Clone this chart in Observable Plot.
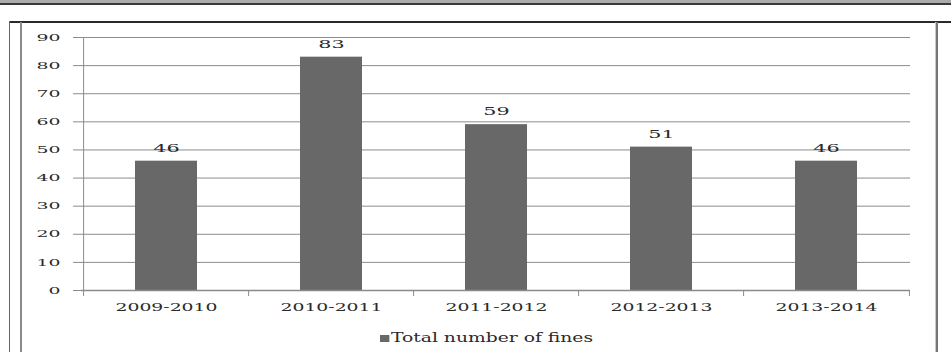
<!DOCTYPE html>
<html>
<head>
<meta charset="utf-8">
<script src="https://cdn.jsdelivr.net/npm/d3@7"></script>
<script src="https://cdn.jsdelivr.net/npm/@observablehq/plot@0.6"></script>
<style>
  html, body { margin: 0; padding: 0; background: #fff; }
  #wrap { position: relative; width: 951px; height: 352px; overflow: hidden; background: #fff; }
  .deco { position: absolute; }
  #legend { position: absolute; left: 380px; top: 330px; height: 16px; line-height: 16px; font-family: 'DejaVu Serif', serif; font-size: 12px; color: #2a2a2a; white-space: nowrap; transform-origin: 0 50%; }
  #legend .sw { display: inline-block; width: 6px; height: 7px; background: #686868; margin-right: 1px; vertical-align: 0px; }
  #chart text { font-family: 'DejaVu Serif', serif; }
</style>
</head>
<body>
<div id="wrap">
  <div class="deco" style="left:0;top:0;width:951px;height:3px;background:#ababab"></div>
  <div class="deco" style="left:0;top:3px;width:951px;height:2px;background:#3a3a3a"></div>
  <div class="deco" style="left:9px;top:21px;width:942px;height:2px;background:#2a2a2a"></div>
  <div class="deco" style="left:9px;top:21px;width:1px;height:331px;background:#666"></div>
  <div class="deco" style="left:20px;top:22px;width:2px;height:330px;background:#8a8a8a"></div>
  <div class="deco" style="left:935px;top:22px;width:1px;height:330px;background:#c8c8c8"></div>
  <div class="deco" style="left:936px;top:22px;width:2px;height:330px;background:#777"></div>
  <div id="chart" style="position:absolute;left:0;top:0"></div>
  <div id="legend"><span class="sw"></span>Total number of fines</div>
</div>
<script>
const categories = ["2009-2010", "2010-2011", "2011-2012", "2012-2013", "2013-2014"];
const fines = [46, 83, 59, 51, 46];
const yTicks = [0, 10, 20, 30, 40, 50, 60, 70, 80, 90];
const gridTicks = [10, 20, 30, 40, 50, 60, 70, 80, 90];

const data = categories.map((c, i) => ({period: c, value: fines[i]}));

const W = 951, H = 322;
const mL = 81, mR = 41, mT = 37, mB = 32;
const step = (W - mL - mR) / categories.length;
const serif = "'DejaVu Serif', serif";

const chart = Plot.plot({
  width: W,
  height: H,
  marginLeft: mL,
  marginRight: mR,
  marginTop: mT,
  marginBottom: mB,
  style: {fontFamily: serif, background: "transparent", color: "#222"},
  x: {domain: categories, paddingInner: 0.625, paddingOuter: 0.3125, axis: null},
  y: {domain: [0, 90], axis: null},
  marks: [
    Plot.ruleY(gridTicks, {stroke: "#8c8c8c", strokeWidth: 1}),
    Plot.axisY(yTicks, {label: null, tickSize: 8, tickPadding: 13, stroke: "#8c8c8c", fill: "#2a2a2a", fontSize: 10}),
    Plot.ruleX([categories[0]], {dx: -step / 2, y1: 0, y2: 90, stroke: "#8c8c8c"}),
    Plot.barY(data, {x: "period", y: "value", fill: "#686868"}),
    Plot.ruleY([0], {stroke: "#8a8a8a", strokeWidth: 1.5}),
    Plot.axisX(categories, {label: null, tickSize: 6, text: null, dx: -step / 2, stroke: "#8a8a8a"}),
    Plot.axisX([categories[categories.length - 1]], {label: null, tickSize: 6, text: null, dx: step / 2, stroke: "#8a8a8a"}),
    Plot.axisX(categories, {label: null, tickSize: 0, tickPadding: 13, fill: "#2a2a2a", fontSize: 11}),
    Plot.text(data, {x: "period", y: "value", text: d => String(d.value), dy: -13, fill: "#2a2a2a", fontSize: 11})
  ]
});

document.getElementById("chart").appendChild(chart);

// horizontally stretch the text as in the reference
// (reference widths: a 9-character period label ~102px, a two-digit number ~24px)
const texts = Array.from(chart.querySelectorAll("text"));
const periodTexts = texts.filter(t => categories.includes(t.textContent.trim()));
const numberTexts = texts.filter(t => !categories.includes(t.textContent.trim()) && /^\d+$/.test(t.textContent.trim()));
function stretchAll(list, target) {
  if (!list.length) return;
  const ref = list.find(t => t.getComputedTextLength() > 0);
  if (!ref) return;
  const refLen = ref.getComputedTextLength();
  const f = target(ref) / refLen;
  list.forEach(t => {
    const len = t.getComputedTextLength();
    t.setAttribute("textLength", (len * f).toFixed(1));
    t.setAttribute("lengthAdjust", "spacingAndGlyphs");
  });
}
stretchAll(periodTexts, () => 102);
const twoDigit = numberTexts.filter(t => t.textContent.trim().length === 2);
const fNum = twoDigit.length ? 24 / twoDigit[0].getComputedTextLength() : 1.7;
numberTexts.forEach(t => {
  const len = t.getComputedTextLength();
  t.setAttribute("textLength", (len * fNum).toFixed(1));
  t.setAttribute("lengthAdjust", "spacingAndGlyphs");
});

const lg = document.getElementById("legend");
const natural = lg.getBoundingClientRect().width;
lg.style.transform = `scaleX(${(213 / natural).toFixed(3)})`;
</script>
</body>
</html>
